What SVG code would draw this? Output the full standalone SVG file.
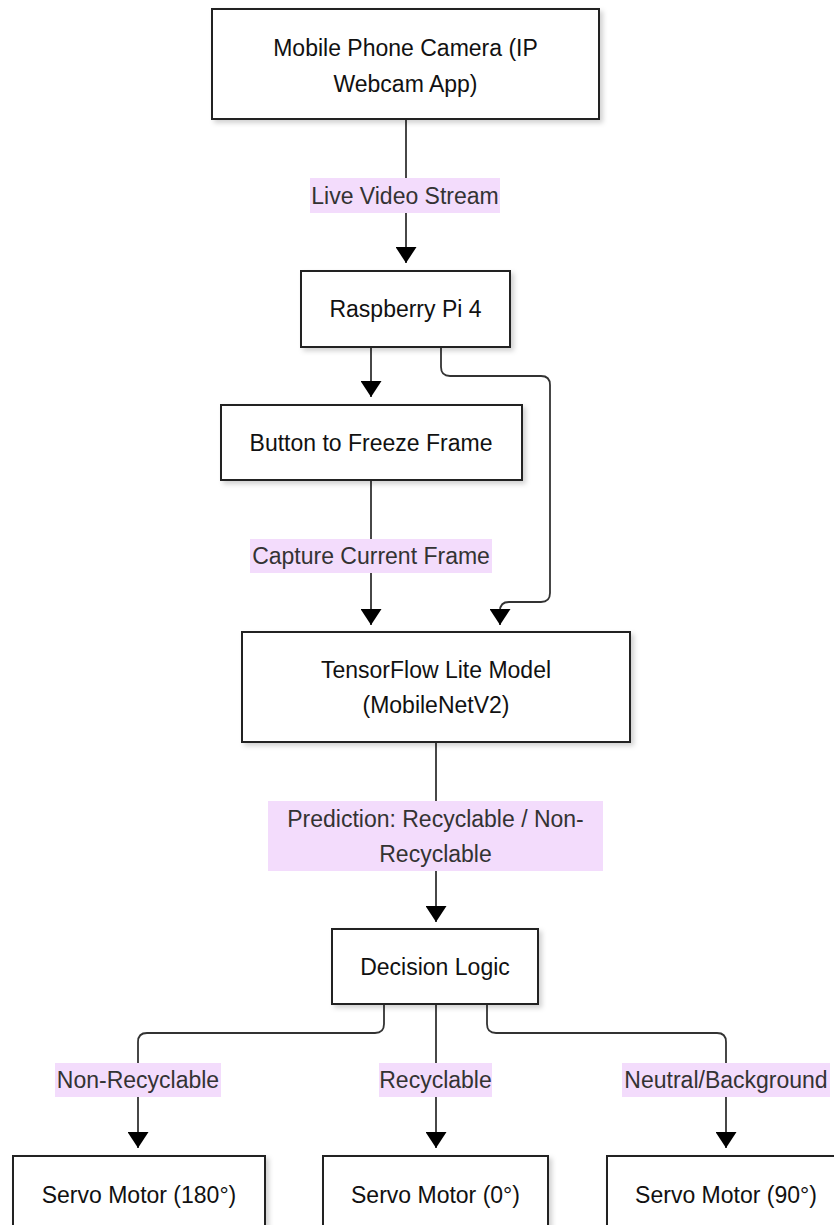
<svg xmlns="http://www.w3.org/2000/svg" width="834" height="1225" viewBox="0 0 834 1225">
<style>
.node rect{fill:#fff;stroke:#222;stroke-width:2;filter:url(#sh)}
.node text{font-family:"Liberation Sans",Arial,sans-serif;font-size:23px;fill:#111;text-anchor:middle}
.edge{fill:none;stroke:#333;stroke-width:1.8;marker-end:url(#ah)}
.lbl rect{fill:#f3dcfc}
.lbl text{font-family:"Liberation Sans",Arial,sans-serif;font-size:23px;fill:#333;text-anchor:middle}
</style>
<defs>
<filter id="sh" x="-10%" y="-10%" width="120%" height="130%">
<feDropShadow dx="3" dy="3" stdDeviation="2.5" flood-color="#000" flood-opacity="0.18"/>
</filter>
<marker id="ah" viewBox="0 0 16 21" markerWidth="16" markerHeight="21" refX="16" refY="10.5" orient="auto" markerUnits="userSpaceOnUse">
<path d="M0,0 L16,10.5 L0,21 z" fill="#000"/>
</marker>
</defs>
<rect width="834" height="1225" fill="#fff"/>
<g id="connectors">
<path class="edge" d="M406,119 V263"/>
<path class="edge" d="M371,347 V397"/>
<path class="edge" d="M441,347 V367 Q441,376 450,376 H541 Q550,376 550,385 V593 Q550,602 541,602 H509 Q500,602 500,611 V625"/>
<path class="edge" d="M371,480 V625"/>
<path class="edge" d="M436,742 V922"/>
<path class="edge" d="M384,1004 V1024 Q384,1033 375,1033 H147 Q138,1033 138,1042 V1148"/>
<path class="edge" d="M436,1004 V1148"/>
<path class="edge" d="M487,1004 V1024 Q487,1033 496,1033 H717 Q726,1033 726,1042 V1148"/>
<g class="lbl"><rect x="310" y="178" width="190" height="35"/><text x="405" y="203.5">Live Video Stream</text></g>
<g class="lbl"><rect x="250" y="539" width="242" height="34"/><text x="371" y="564">Capture Current Frame</text></g>
<g class="lbl"><rect x="268" y="801" width="335" height="70"/><text x="435.5" y="826.5">Prediction: Recyclable / Non-</text><text x="435.5" y="861.5">Recyclable</text></g>
<g class="lbl"><rect x="55" y="1063" width="166" height="34"/><text x="138" y="1088">Non-Recyclable</text></g>
<g class="lbl"><rect x="379" y="1063" width="113" height="34"/><text x="435.5" y="1088">Recyclable</text></g>
<g class="lbl"><rect x="622" y="1063" width="208" height="34"/><text x="726" y="1088">Neutral/Background</text></g>
</g>
<g id="n1" class="node"><rect x="212" y="9" width="387" height="110"/><text x="405.5" y="56">Mobile Phone Camera (IP</text><text x="405.5" y="92">Webcam App)</text></g>
<g id="n2" class="node"><rect x="301" y="271" width="209" height="76"/><text x="405.5" y="317">Raspberry Pi 4</text></g>
<g id="n3" class="node"><rect x="221" y="405" width="301" height="75"/><text x="371" y="450.5">Button to Freeze Frame</text></g>
<g id="n4" class="node"><rect x="242" y="632" width="388" height="110"/><text x="436" y="677.5">TensorFlow Lite Model</text><text x="436" y="712.5">(MobileNetV2)</text></g>
<g id="n5" class="node"><rect x="332" y="929" width="206" height="75"/><text x="435" y="974.5">Decision Logic</text></g>
<g id="n6" class="node"><rect x="13" y="1156" width="252" height="76"/><text x="139" y="1203">Servo Motor (180°)</text></g>
<g id="n7" class="node"><rect x="323" y="1156" width="225" height="76"/><text x="435.5" y="1203">Servo Motor (0°)</text></g>
<g id="n8" class="node"><rect x="607" y="1156" width="238" height="76"/><text x="726" y="1203">Servo Motor (90°)</text></g>
</svg>
